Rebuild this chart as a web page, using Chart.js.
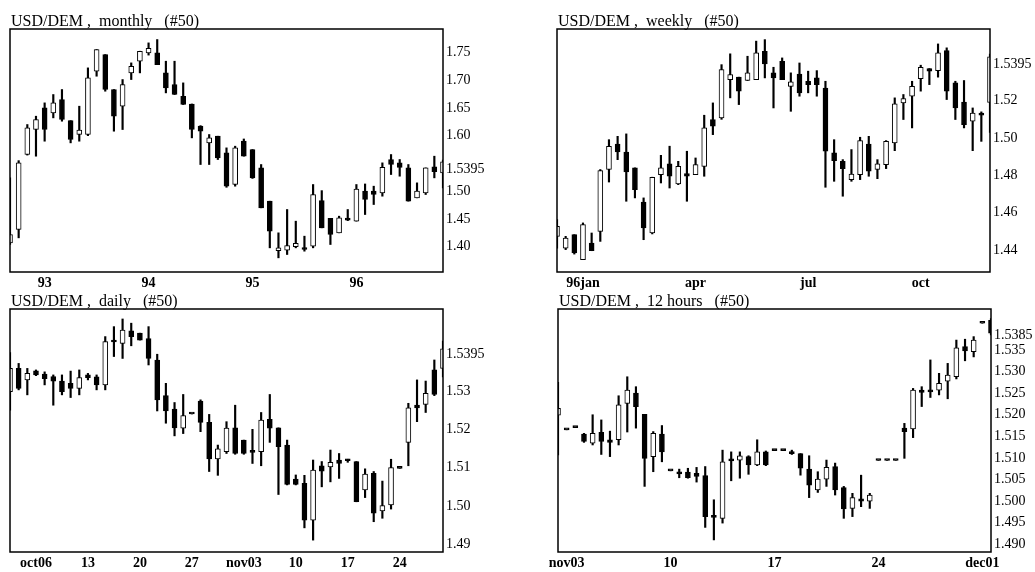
<!DOCTYPE html>
<html><head><meta charset="utf-8">
<script src="https://cdn.jsdelivr.net/npm/chart.js@4/dist/chart.umd.min.js"></script>
<style>
html,body{margin:0;padding:0;background:#fff;}
body{width:1035px;height:572px;position:relative;overflow:hidden;}
canvas{position:absolute;left:0;top:0;}
</style></head><body>
<canvas id="cMonthly" width="1035" height="572"></canvas>
<canvas id="cWeekly" width="1035" height="572"></canvas>
<canvas id="cDaily" width="1035" height="572"></canvas>
<canvas id="c12h" width="1035" height="572"></canvas>
<script>
// ---------- MONTHLY (Sep 92 .. Nov 96) ----------
const monthlyOpen  = [1.407,1.431,1.566,1.611,1.650,1.641,1.665,1.627,1.602,1.602,1.716,1.746,1.683,1.653,1.713,1.734,1.749,1.749,1.713,1.692,1.671,1.657,1.617,1.587,1.599,1.569,1.512,1.590,1.575,1.542,1.482,1.393,1.394,1.400,1.398,1.401,1.483,1.451,1.425,1.450,1.446,1.500,1.500,1.497,1.557,1.551,1.542,1.488,1.497,1.544,1.533];
const monthlyHigh  = [1.524,1.555,1.620,1.635,1.659,1.674,1.683,1.627,1.653,1.722,1.755,1.746,1.683,1.701,1.731,1.752,1.767,1.773,1.734,1.734,1.695,1.657,1.618,1.602,1.599,1.578,1.581,1.594,1.575,1.548,1.482,1.425,1.467,1.446,1.419,1.512,1.501,1.451,1.455,1.467,1.512,1.513,1.509,1.551,1.566,1.557,1.548,1.515,1.542,1.563,1.556];
const monthlyLow   = [1.404,1.416,1.565,1.563,1.590,1.632,1.626,1.587,1.590,1.600,1.707,1.680,1.608,1.611,1.701,1.713,1.745,1.728,1.677,1.674,1.656,1.596,1.548,1.548,1.557,1.507,1.509,1.563,1.523,1.470,1.398,1.380,1.386,1.398,1.392,1.398,1.434,1.404,1.425,1.447,1.446,1.458,1.476,1.491,1.530,1.527,1.482,1.488,1.494,1.524,1.506];
const monthlyClose = [1.422,1.551,1.614,1.629,1.611,1.659,1.629,1.593,1.610,1.704,1.755,1.683,1.635,1.692,1.725,1.752,1.757,1.728,1.686,1.674,1.656,1.611,1.608,1.596,1.560,1.509,1.578,1.563,1.524,1.470,1.428,1.398,1.402,1.406,1.395,1.494,1.434,1.422,1.452,1.448,1.504,1.485,1.494,1.543,1.548,1.543,1.482,1.500,1.542,1.535,1.553];
const monthlyYTicks = [1.40,1.45,1.50,1.5395,1.60,1.65,1.70,1.75];
const monthlyYText  = ['1.40','1.45','1.50','1.5395','1.60','1.65','1.70','1.75'];
const monthlyXAt    = [4,16,28,40];
const monthlyXText  = ['93','94','95','96'];

// ---------- WEEKLY (1996) ----------
const weeklyOpen  = [1.4473,1.4410,1.4482,1.4348,1.4437,1.4500,1.4831,1.4968,1.4925,1.4840,1.4657,1.4491,1.4804,1.4861,1.4754,1.4810,1.4804,1.4848,1.5099,1.5107,1.5313,1.5326,1.5308,1.5313,1.5465,1.5349,1.5411,1.5277,1.5343,1.5304,1.5322,1.5268,1.4920,1.4875,1.4777,1.4804,1.4968,1.4831,1.4857,1.4973,1.5188,1.5224,1.5318,1.5372,1.5361,1.5468,1.5295,1.5193,1.5090,1.5134,1.5190];
const weeklyHigh  = [1.4563,1.4473,1.4482,1.4545,1.4491,1.4831,1.4991,1.5009,1.5022,1.4840,1.4679,1.4790,1.4907,1.4956,1.4875,1.4929,1.4893,1.5122,1.5188,1.5393,1.5451,1.5326,1.5438,1.5519,1.5527,1.5379,1.5429,1.5349,1.5402,1.5358,1.5361,1.5304,1.4991,1.4884,1.4938,1.5004,1.5009,1.4884,1.4986,1.5215,1.5233,1.5304,1.5390,1.5372,1.5504,1.5483,1.5304,1.5308,1.5161,1.5140,1.5450];
const weeklyLow   = [1.4410,1.4402,1.4378,1.4348,1.4396,1.4446,1.4764,1.4884,1.4661,1.4679,1.4455,1.4486,1.4759,1.4732,1.4750,1.4661,1.4804,1.4795,1.5018,1.5100,1.5215,1.5179,1.5308,1.5313,1.5322,1.5161,1.5313,1.5143,1.5224,1.5242,1.5224,1.4736,1.4768,1.4688,1.4768,1.4777,1.4795,1.4782,1.4836,1.4932,1.5099,1.5054,1.5251,1.5286,1.5326,1.5206,1.5099,1.5054,1.4932,1.4982,1.5030];
const weeklyClose = [1.4527,1.4464,1.4384,1.4536,1.4396,1.4825,1.4956,1.4925,1.4818,1.4723,1.4518,1.4789,1.4840,1.4795,1.4848,1.4795,1.4857,1.5054,1.5063,1.5367,1.5340,1.5251,1.5349,1.5456,1.5397,1.5322,1.5313,1.5301,1.5242,1.5286,1.5286,1.4929,1.4879,1.4836,1.4807,1.4986,1.4822,1.4861,1.4982,1.5183,1.5211,1.5277,1.5379,1.5358,1.5456,1.5251,1.5161,1.5072,1.5134,1.5122,1.5435];
const weeklyYTicks = [1.44,1.46,1.48,1.50,1.52,1.5395];
const weeklyYText  = ['1.44','1.46','1.48','1.50','1.52','1.5395'];
const weeklyXAt    = [3,16,29,42];
const weeklyXText  = ['96jan','apr','jul','oct'];

// ---------- DAILY ----------
const dailyOpen  = [1.5298,1.5359,1.5329,1.5353,1.5344,1.5338,1.5326,1.5320,1.5307,1.5342,1.5337,1.5316,1.5430,1.5424,1.5457,1.5451,1.5437,1.5381,1.5288,1.5253,1.5203,1.5240,1.5274,1.5218,1.5123,1.5142,1.5204,1.5172,1.5142,1.5142,1.5226,1.5204,1.5159,1.5070,1.5059,1.4963,1.5105,1.5102,1.5120,1.5119,1.5116,1.5042,1.5085,1.4987,1.5003,1.5098,1.5166,1.5263,1.5265,1.5355,1.5359];
const dailyHigh  = [1.5400,1.5372,1.5359,1.5355,1.5350,1.5342,1.5342,1.5352,1.5355,1.5346,1.5342,1.5442,1.5468,1.5488,1.5477,1.5451,1.5468,1.5396,1.5320,1.5270,1.5291,1.5240,1.5277,1.5239,1.5159,1.5220,1.5263,1.5172,1.5200,1.5244,1.5291,1.5204,1.5172,1.5081,1.5080,1.5120,1.5116,1.5146,1.5137,1.5122,1.5116,1.5097,1.5090,1.5065,1.5122,1.5098,1.5268,1.5329,1.5326,1.5381,1.5430];
const dailyLow   = [1.5250,1.5303,1.5290,1.5340,1.5316,1.5263,1.5290,1.5283,1.5290,1.5329,1.5303,1.5303,1.5390,1.5385,1.5418,1.5433,1.5368,1.5248,1.5216,1.5183,1.5189,1.5240,1.5194,1.5090,1.5080,1.5137,1.5135,1.5135,1.5111,1.5105,1.5166,1.5030,1.5055,1.5055,1.4943,1.4911,1.5050,1.5063,1.5072,1.5114,1.5011,1.5022,1.4959,1.4968,1.4992,1.5098,1.5105,1.5220,1.5244,1.5288,1.5337];
const dailyClose = [1.5359,1.5307,1.5346,1.5342,1.5332,1.5326,1.5298,1.5307,1.5335,1.5335,1.5316,1.5429,1.5428,1.5459,1.5442,1.5433,1.5385,1.5277,1.5248,1.5204,1.5236,1.5240,1.5218,1.5123,1.5149,1.5203,1.5137,1.5137,1.5140,1.5224,1.5203,1.5155,1.5056,1.5056,1.4963,1.5094,1.5091,1.5114,1.5111,1.5118,1.5011,1.5083,1.4981,1.5001,1.5100,1.5098,1.5256,1.5256,1.5294,1.5291,1.5410];
const dailyYTicks = [1.49,1.50,1.51,1.52,1.53,1.5395];
const dailyYText  = ['1.49','1.50','1.51','1.52','1.53','1.5395'];
const dailyXAt    = [3,9,15,21,27,33,39,45];
const dailyXText  = ['oct06','13','20','27','nov03','10','17','24'];

// ---------- 12 HOURS ----------
const h12Open  = [1.5199,1.5165,1.5170,1.5155,1.5134,1.5159,1.5142,1.5142,1.5226,1.5250,1.5201,1.5103,1.5155,1.5070,1.5068,1.5067,1.5064,1.5059,1.4967,1.4960,1.5098,1.5095,1.5103,1.5084,1.5114,1.5117,1.5117,1.5114,1.5110,1.5074,1.5026,1.5051,1.5080,1.5031,1.4983,1.5005,1.5000,1.5094,1.5094,1.5094,1.5169,1.5167,1.5257,1.5255,1.5257,1.5278,1.5288,1.5358,1.5346,1.5412,1.5419];
const h12High  = [1.5275,1.5165,1.5170,1.5157,1.5200,1.5188,1.5162,1.5244,1.5288,1.5265,1.5201,1.5161,1.5175,1.5070,1.5074,1.5076,1.5078,1.5080,1.5003,1.5118,1.5114,1.5114,1.5105,1.5142,1.5116,1.5117,1.5117,1.5118,1.5110,1.5105,1.5068,1.5095,1.5088,1.5034,1.5018,1.5060,1.5018,1.5094,1.5094,1.5094,1.5180,1.5261,1.5265,1.5327,1.5296,1.5319,1.5373,1.5375,1.5381,1.5412,1.5423];
const h12Low   = [1.5107,1.5165,1.5170,1.5136,1.5130,1.5108,1.5103,1.5130,1.5160,1.5169,1.5034,1.5068,1.5091,1.5070,1.5054,1.5053,1.5044,1.4939,1.4910,1.4949,1.5047,1.5053,1.5062,1.5082,1.5082,1.5117,1.5117,1.5108,1.5060,1.5008,1.5020,1.5034,1.5014,1.4960,1.4964,1.4987,1.4983,1.5094,1.5094,1.5094,1.5099,1.5147,1.5219,1.5240,1.5246,1.5237,1.5283,1.5325,1.5334,1.5412,1.5385];
const h12Close = [1.5215,1.5165,1.5170,1.5138,1.5157,1.5138,1.5136,1.5223,1.5257,1.5219,1.5099,1.5157,1.5114,1.5070,1.5063,1.5054,1.5057,1.4964,1.4962,1.5091,1.5093,1.5105,1.5084,1.5114,1.5084,1.5117,1.5117,1.5110,1.5076,1.5037,1.5051,1.5078,1.5026,1.4982,1.5008,1.5000,1.5014,1.5094,1.5094,1.5094,1.5161,1.5257,1.5252,1.5253,1.5273,1.5292,1.5355,1.5348,1.5373,1.5412,1.5389];
const h12YTicks = [1.490,1.495,1.500,1.505,1.510,1.515,1.520,1.525,1.530,1.535,1.5385];
const h12YText  = ['1.490','1.495','1.500','1.505','1.510','1.515','1.520','1.525','1.530','1.535','1.5385'];
const h12XAt    = [1,13,25,37,49];
const h12XText  = ['nov03','10','17','24','dec01'];

// ---------- drawing ----------
const PAGE_W = 1035, PAGE_H = 572, AXW = 45, AXH = 20;
const SERIF = '"Liberation Serif", "DejaVu Serif", serif';

function framePlugin(title){
  return {
    id: 'frameTitle',
    afterDraw(chart){
      const a = chart.chartArea, ctx = chart.ctx;
      ctx.save();
      ctx.strokeStyle = '#000';
      ctx.lineWidth = 1.5;
      ctx.strokeRect(a.left, a.top, a.right - a.left, a.bottom - a.top);
      ctx.fillStyle = '#000';
      ctx.font = '16px ' + SERIF;
      ctx.textBaseline = 'alphabetic';
      ctx.textAlign = 'left';
      ctx.fillText(title, a.left + 1, a.top - 3);
      ctx.restore();
    }
  };
}

function makeChart(p){
  const n = p.o.length;
  const labels = Array.from({length: n}, (_, i) => String(i));
  const xLabelFor = i => { const k = p.xAt.indexOf(i); return k >= 0 ? p.xText[k] : ''; };
  new Chart(document.getElementById(p.id), {
    type: 'bar',
    data: {
      labels,
      datasets: [
        {
          data: p.o.map((v, i) => [v, p.c[i]]),
          backgroundColor: p.o.map((v, i) => p.c[i] > v ? '#ffffff' : '#000000'),
          borderColor: '#000', borderWidth: 1, borderSkipped: false,
          barThickness: 5, minBarLength: 2, grouped: false, order: 0
        },
        {
          data: p.l.map((v, i) => [v, p.h[i]]),
          backgroundColor: '#000', borderWidth: 0,
          barThickness: 1.5, grouped: false, order: 1
        }
      ]
    },
    options: {
      responsive: false, animation: false, events: [],
      layout: { padding: { left: p.box[0], top: p.box[1], right: PAGE_W - p.box[2] - AXW, bottom: PAGE_H - p.box[3] - AXH } },
      plugins: { legend: { display: false }, tooltip: { enabled: false }, title: { display: false } },
      scales: {
        x: {
          offset: false,
          grid: { display: false, drawTicks: false },
          border: { display: false },
          ticks: { autoSkip: false, maxRotation: 0, minRotation: 0, padding: 3, color: '#000',
                   font: { family: SERIF, size: 14, weight: 'bold' },
                   callback: (v, i) => xLabelFor(i) },
          afterFit: s => { s.height = AXH; }
        },
        y: {
          position: 'right', min: p.yMin, max: p.yMax,
          grid: { display: false, drawTicks: false },
          border: { display: false },
          afterBuildTicks: s => { s.ticks = p.yTicks.map(v => ({ value: v })); },
          ticks: { autoSkip: false, padding: 3, color: '#000',
                   font: { family: SERIF, size: 14 },
                   callback: v => p.yText[p.yTicks.indexOf(v)] },
          afterFit: s => { s.width = AXW; }
        }
      }
    },
    plugins: [framePlugin(p.title)]
  });
}

makeChart({ id: 'cMonthly', title: 'USD/DEM ,  monthly   (#50)',
  o: monthlyOpen, h: monthlyHigh, l: monthlyLow, c: monthlyClose,
  yMin: 1.3545, yMax: 1.792, yTicks: monthlyYTicks, yText: monthlyYText,
  xAt: monthlyXAt, xText: monthlyXText, box: [10, 29, 443, 272] });
makeChart({ id: 'cWeekly', title: 'USD/DEM ,  weekly   (#50)',
  o: weeklyOpen, h: weeklyHigh, l: weeklyLow, c: weeklyClose,
  yMin: 1.4282, yMax: 1.5584, yTicks: weeklyYTicks, yText: weeklyYText,
  xAt: weeklyXAt, xText: weeklyXText, box: [557, 29, 990, 272] });
makeChart({ id: 'cDaily', title: 'USD/DEM ,  daily   (#50)',
  o: dailyOpen, h: dailyHigh, l: dailyLow, c: dailyClose,
  yMin: 1.488, yMax: 1.5514, yTicks: dailyYTicks, yText: dailyYText,
  xAt: dailyXAt, xText: dailyXText, box: [10, 309, 443, 552] });
makeChart({ id: 'c12h', title: 'USD/DEM ,  12 hours   (#50)',
  o: h12Open, h: h12High, l: h12Low, c: h12Close,
  yMin: 1.4882, yMax: 1.5445, yTicks: h12YTicks, yText: h12YText,
  xAt: h12XAt, xText: h12XText, box: [558, 309, 991, 552] });
</script>
</body></html>
